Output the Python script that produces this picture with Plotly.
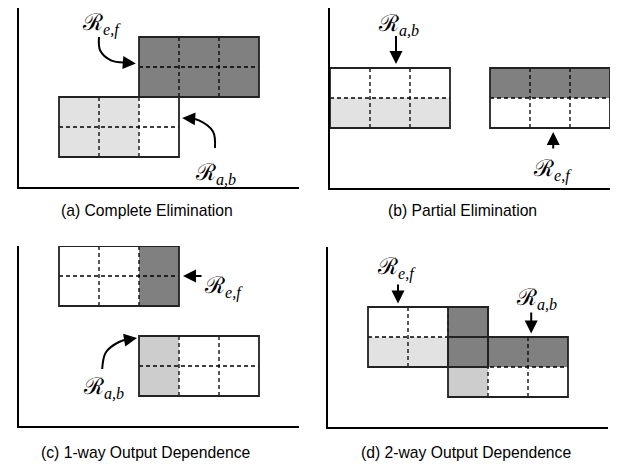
import plotly.graph_objects as go

# ---------------- data ----------------
captions = ["(a) Complete Elimination", "(b) Partial Elimination",
            "(c) 1-way Output Dependence", "(d) 2-way Output Dependence"]

# each region: panel, label, origin (col,row of lower-left corner), cell fills (top row first)
region_panel = ["a", "a", "b", "b", "c", "c", "d", "d"]
region_label = ["e,f", "a,b", "a,b", "e,f", "e,f", "a,b", "e,f", "a,b"]
region_origin = [(3, 3), (1, 1), (0, 2), (4, 2), (1, 4), (3, 1), (1, 2), (3, 1)]
region_cells = [
    [["D", "D", "D"], ["D", "D", "D"]],
    [["L", "L", "W"], ["L", "L", "W"]],
    [["W", "W", "W"], ["L", "L", "L"]],
    [["D", "D", "D"], ["W", "W", "W"]],
    [["W", "W", "D"], ["W", "W", "D"]],
    [["M", "W", "W"], ["M", "W", "W"]],
    [["W", "W", "D"], ["L", "L", "D"]],
    [["D", "D", "D"], ["M", "W", "W"]],
]

# ---------------- layout / style ----------------
PAGE_W, PAGE_H = 630, 465
OFF = 8  # default page margin of the html body
W, H = PAGE_W - OFF, PAGE_H - OFF
fill_colors = {"D": "#808080", "L": "#e2e2e2", "M": "#cdcdcd", "W": "#ffffff"}
panels = ["a", "b", "c", "d"]
panel_x_px = {"a": (19, 299), "b": (330, 610), "c": (19, 299), "d": (328, 608)}
panel_y_px = {"a": (8, 187), "b": (8, 188), "c": (246, 426), "d": (247, 427)}
caption_px = {"a": (147, 210), "b": (462, 210), "c": (146, 452), "d": (466, 452)}
axis_id = {"a": "", "b": "2", "c": "3", "d": "4"}

# label text positions (axis units) for each region
label_pos = [(2.05, 5.45), (4.92, 0.45), (1.72, 5.45), (5.57, 0.6),
             (5.12, 4.63), (2.12, 1.3), (1.72, 5.3), (5.2, 4.3)]
# arrows: list of path points (axis units); last point is the tip
arrow_paths = [
    [(2.0, 5.0), (2.03, 4.55), (2.3, 4.22), (2.62, 4.15), (2.92, 4.12)],
    [(4.9, 1.3), (4.85, 1.85), (4.5, 2.22), (4.3, 2.28), (4.08, 2.3)],
    [(1.65, 5.12), (1.65, 4.13)],
    [(5.58, 1.27), (5.58, 1.87)],
    [(4.6, 5.0), (4.1, 5.0)],
    [(2.08, 1.9), (2.17, 2.45), (2.5, 2.8), (2.72, 2.88), (2.95, 2.93)],
    [(1.75, 4.8), (1.75, 4.12)],
    [(5.08, 3.87), (5.08, 3.12)],
]

fig = go.Figure()
annotations = []


def fx(px):
    return min(max((px - OFF) / W, 0.0), 1.0)


def fy(py):
    return min(max(1 - (py - OFF) / H, 0.0), 1.0)


for p in panels:
    s = axis_id[p]
    x0, x1 = panel_x_px[p]
    y0, y1 = panel_y_px[p]
    xr = (x1 - x0) / 40.0
    yr = (y1 - y0) / 30.0
    fig.update_layout(**{
        "xaxis" + s: dict(domain=[fx(x0), fx(x1)], range=[0, xr], anchor="y" + s,
                          showline=True, linecolor="black", linewidth=2,
                          showgrid=False, zeroline=False, showticklabels=False, ticks="",
                          fixedrange=True),
        "yaxis" + s: dict(domain=[fy(y1), fy(y0)], range=[0, yr], anchor="x" + s,
                          showline=True, linecolor="black", linewidth=2,
                          showgrid=False, zeroline=False, showticklabels=False, ticks="",
                          fixedrange=True),
    })

# cells, dashed interior lines, borders
fill_shapes, dash_shapes, border_shapes = [], [], []
for p, (ox, oy), cells in zip(region_panel, region_origin, region_cells):
    s = axis_id[p]
    xref, yref = "x" + s, "y" + s
    nrows = len(cells)
    ncols = len(cells[0])
    for r, row in enumerate(cells):
        for c, f in enumerate(row):
            cx0 = ox + c
            cy1 = oy + nrows - r
            fill_shapes.append(dict(type="rect", xref=xref, yref=yref,
                                    x0=cx0, x1=cx0 + 1, y0=cy1 - 1, y1=cy1,
                                    fillcolor=fill_colors[f], line=dict(width=0)))
    for c in range(1, ncols):
        dash_shapes.append(dict(type="line", xref=xref, yref=yref,
                                x0=ox + c, x1=ox + c, y0=oy, y1=oy + nrows,
                                line=dict(color="black", width=1.3, dash="4px,3px")))
    for r in range(1, nrows):
        dash_shapes.append(dict(type="line", xref=xref, yref=yref,
                                x0=ox, x1=ox + ncols, y0=oy + r, y1=oy + r,
                                line=dict(color="black", width=1.3, dash="4px,3px")))
    border_shapes.append(dict(type="rect", xref=xref, yref=yref,
                              x0=ox, x1=ox + ncols, y0=oy, y1=oy + nrows,
                              line=dict(color="#222222", width=1.8)))
    # solid outline around the single dark column of the overlapping region (panel d)
    if p == "d" and cells[0][2] == "D" and cells[1][2] == "D":
        border_shapes.append(dict(type="rect", xref=xref, yref=yref,
                                  x0=ox + 2, x1=ox + 3, y0=oy, y1=oy + nrows,
                                  line=dict(color="#222222", width=1.8)))

shapes = fill_shapes + dash_shapes + border_shapes

# labels and arrows
for p, lab, (lx, ly), path in zip(region_panel, region_label, label_pos, arrow_paths):
    s = axis_id[p]
    xref, yref = "x" + s, "y" + s
    annotations.append(dict(
        x=lx, y=ly, xref=xref, yref=yref, showarrow=False,
        text="ℛ<sub><span style='font-family:Liberation Serif'><i>" + lab + "</i></span></sub>",
        font=dict(family="DejaVu Serif", size=23, color="black"),
        xanchor="center", yanchor="middle"))
    if len(path) > 2:
        xs = [pt[0] for pt in path[:-1]]
        ys = [pt[1] for pt in path[:-1]]
        fig.add_trace(go.Scatter(x=xs, y=ys, xaxis="x" + s, yaxis="y" + s, mode="lines",
                                 line=dict(color="black", width=2, shape="spline"),
                                 hoverinfo="skip", showlegend=False, cliponaxis=False))
    tail = path[-2]
    tip = path[-1]
    annotations.append(dict(
        x=tip[0], y=tip[1], ax=tail[0], ay=tail[1], xref=xref, yref=yref,
        axref=xref, ayref=yref, showarrow=True, arrowhead=2, arrowsize=1.3,
        arrowwidth=2, arrowcolor="black", text="", standoff=0, startstandoff=0))

# captions
for p, cap in zip(panels, captions):
    cx, cy = caption_px[p]
    annotations.append(dict(x=fx(cx), y=fy(cy), xref="paper", yref="paper",
                            text=cap, showarrow=False, xanchor="center", yanchor="middle",
                            font=dict(family="Liberation Sans, Arial", size=15.7, color="black")))

fig.update_layout(width=W, height=H, margin=dict(l=0, r=0, t=0, b=0),
                  paper_bgcolor="white", plot_bgcolor="white",
                  shapes=shapes, annotations=annotations, showlegend=False)

fig.write_html("out.html")
